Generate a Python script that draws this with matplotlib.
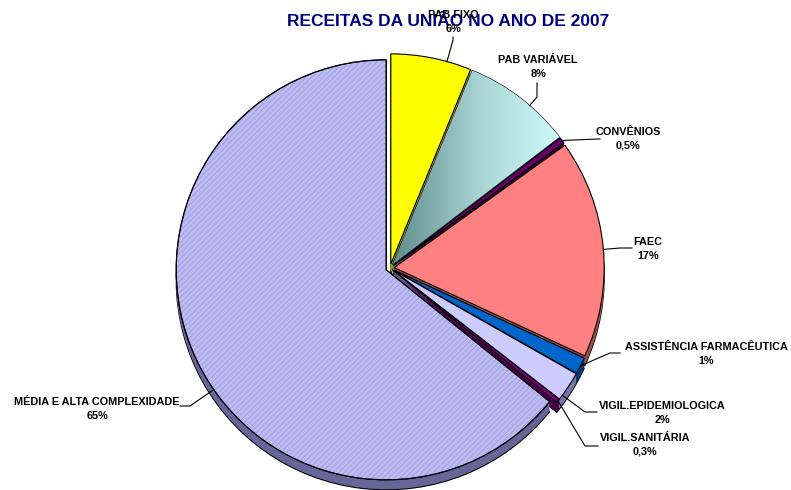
import numpy as np
import matplotlib.pyplot as plt
from matplotlib.patches import Wedge
from matplotlib.colors import LinearSegmentedColormap

plt.rcParams['font.family'] = ['Liberation Sans', 'DejaVu Sans']
plt.rcParams['hatch.linewidth'] = 0.6

# ==================== Data ====================
labels = ['PAB FIXO', 'PAB VARIÁVEL', 'CONVÊNIOS', 'FAEC',
          'ASSISTÊNCIA FARMACÊUTICA', 'VIGIL.EPIDEMIOLOGICA',
          'VIGIL.SANITÁRIA', 'MÉDIA E ALTA COMPLEXIDADE']
values = [6.2, 8.4, 0.5, 16.8, 1.3, 2.3, 0.3, 64.2]
pct_labels = ['6%', '8%', '0,5%', '17%', '1%', '2%', '0,3%', '65%']

top_colors = ['#ffff00', '#a8d4d4', '#660066', '#ff8080',
              '#0066cc', '#ccccff', '#800080', '#bcbcf2']
side_colors = ['#a0a000', '#5e8282', '#330033', '#a04c4c',
               '#003c78', '#7878a8', '#4a004a', '#666699']

TITLE = 'RECEITAS DA UNIÃO NO ANO DE 2007'

# ==================== Layout (pixels) ====================
W, H = 791, 490
CX, CY = 390, 268
R = 210
DEPTH = 10
EXPLODE = 0.02

# label text centre, start and elbow of the leader line
label_pos = [(453, 22), (538, 67), (628, 139), (648, 249),
             (706, 354), (662, 413), (645, 445), (97, 409)]
leader_start = [(453, 37), (537, 83), (600, 139), (632, 248),
                (620, 353), (597, 412), (598, 446), (180, 406)]
leader_elbow = [(453, 40), (537, 97), (598, 139), (620, 248),
                (610, 353), (585, 412), (585, 446), (190, 406)]


def px(x, y):
    return (x - CX) / R, (CY - y) / R


fig = plt.figure(figsize=(W / 100, H / 100), dpi=100)
ax = fig.add_axes([0, 0, 1, 1])

explode = [EXPLODE] * len(values)

# 3D side: stacked copies shifted down
for k in range(DEPTH, 0, -1):
    lw = 0.8 if k == DEPTH else 0
    ax.pie(values, colors=side_colors, startangle=90, counterclock=False,
           explode=explode, center=(0, -k / R), radius=1,
           wedgeprops=dict(linewidth=lw, edgecolor='black'))

wedges, _ = ax.pie(values, colors=top_colors, startangle=90, counterclock=False,
                   explode=explode, center=(0, 0), radius=1,
                   wedgeprops=dict(linewidth=0.8, edgecolor='black'))

# gradient on PAB VARIÁVEL
teal = LinearSegmentedColormap.from_list('teal', ['#5f8a8a', '#a8d4d4', '#d4ffff'])
grad = np.linspace(0, 1, 256).reshape(1, -1)
img = ax.imshow(grad, cmap=teal, extent=(0, 0.85, 0, 1.0), aspect='auto', zorder=1.5)
img.set_clip_path(wedges[1])

# hatching on MÉDIA E ALTA COMPLEXIDADE
w = wedges[7]
ax.add_patch(Wedge(w.center, w.r, w.theta1, w.theta2, fill=False,
                   hatch='//////', edgecolor='#9a9ade', linewidth=0, zorder=1.6))
ax.add_patch(Wedge(w.center, w.r, w.theta1, w.theta2, fill=False,
                   edgecolor='black', linewidth=0.8, zorder=1.7))

# leader lines and labels
for i, wd in enumerate(wedges):
    ex, ey = px(*leader_elbow[i])
    ang = np.degrees(np.arctan2(ey - wd.center[1], ex - wd.center[0]))
    t1, t2 = wd.theta1, wd.theta2
    a = ang
    while a < t1:
        a += 360
    while a > t1 + 360:
        a -= 360
    if a > t2:
        a = (t1 + t2) / 2
    ax_x = wd.center[0] + wd.r * np.cos(np.radians(a))
    ax_y = wd.center[1] + wd.r * np.sin(np.radians(a))
    sx, sy = px(*leader_start[i])
    ax.plot([sx, ex, ax_x], [sy, ey, ax_y], color='black', lw=0.8, zorder=3)
    tx, ty = px(*label_pos[i])
    ax.text(tx, ty, labels[i] + '\n' + pct_labels[i], ha='center', va='center',
            fontsize=7.8, fontweight='bold', linespacing=1.45, zorder=5)

tx, ty = px(448, 22)
ax.text(tx, ty, TITLE, ha='center', va='center', fontsize=12.5,
        fontweight='bold', color='#000080', zorder=4)

x0, y1 = px(0, 0)
x1, y0 = px(W, H)
ax.set_xlim(x0, x1)
ax.set_ylim(y0, y1)
ax.set_aspect('equal')
ax.axis('off')

fig.savefig('out.png', dpi=100)
